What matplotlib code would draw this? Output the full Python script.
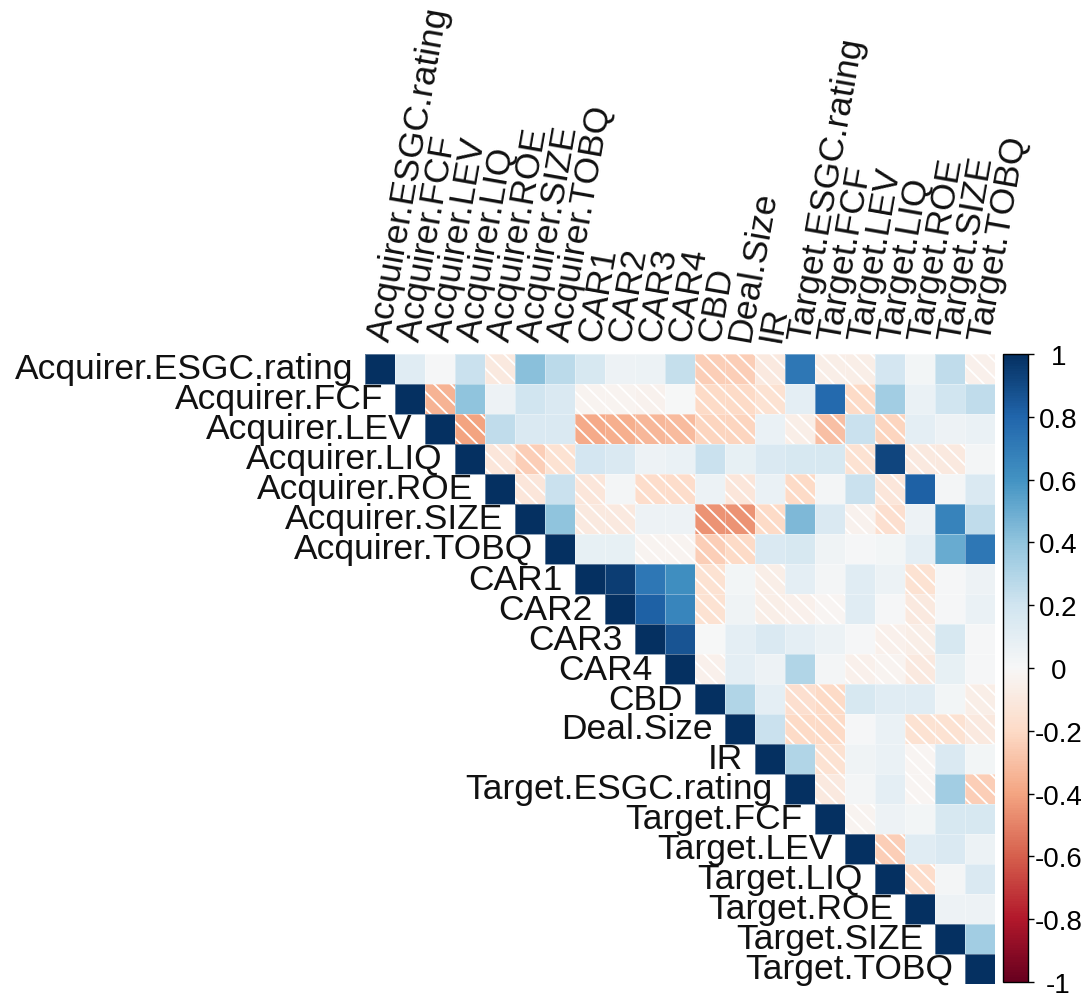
import numpy as np
import matplotlib
matplotlib.use('Agg')
from matplotlib import pyplot as plt
from matplotlib.patches import Rectangle
from matplotlib.colors import Normalize
from matplotlib.cm import ScalarMappable

plt.rcParams['font.family'] = ['Liberation Sans', 'DejaVu Sans']
plt.rcParams['hatch.color'] = 'white'
plt.rcParams['hatch.linewidth'] = 1.3

# variable names (rows and columns are the same)
names = ['Acquirer.ESGC.rating', 'Acquirer.FCF', 'Acquirer.LEV', 'Acquirer.LIQ',
         'Acquirer.ROE', 'Acquirer.SIZE', 'Acquirer.TOBQ', 'CAR1', 'CAR2', 'CAR3',
         'CAR4', 'CBD', 'Deal.Size', 'IR', 'Target.ESGC.rating', 'Target.FCF',
         'Target.LEV', 'Target.LIQ', 'Target.ROE', 'Target.SIZE', 'Target.TOBQ']

# upper triangle, each row starts right after the diagonal
r_acq_esgc = [0.12, 0.01, 0.22, -0.1, 0.42, 0.27, 0.17, 0.05, 0.06, 0.24, -0.25, -0.25, -0.1, 0.72, -0.07, -0.07, 0.18, 0.03, 0.25, -0.05]
r_acq_fcf = [-0.35, 0.4, 0.05, 0.2, 0.15, -0.03, -0.03, -0.04, 0.0, -0.2, -0.2, -0.15, 0.1, 0.78, -0.2, 0.35, 0.07, 0.2, 0.25]
r_acq_lev = [-0.4, 0.25, 0.15, 0.15, -0.38, -0.36, -0.33, -0.32, -0.22, -0.22, 0.07, -0.07, -0.3, 0.22, -0.22, 0.1, 0.05, 0.07]
r_acq_liq = [-0.12, -0.25, -0.15, 0.18, 0.15, 0.05, 0.07, 0.22, 0.08, 0.15, 0.17, 0.17, -0.15, 0.92, -0.1, -0.1, 0.02]
r_acq_roe = [-0.12, 0.22, -0.12, 0.02, -0.18, -0.18, 0.06, -0.12, 0.07, -0.2, 0.02, 0.22, -0.12, 0.82, 0.02, 0.15]
r_acq_size = [0.4, -0.1, -0.1, 0.05, 0.05, -0.45, -0.45, -0.2, 0.45, 0.15, -0.04, -0.17, 0.05, 0.67, 0.25]
r_acq_tobq = [0.08, 0.08, -0.03, -0.03, -0.25, -0.2, 0.15, 0.17, 0.04, 0.01, 0.03, 0.1, 0.5, 0.72]
r_car1 = [0.95, 0.72, 0.62, -0.15, 0.03, -0.07, 0.1, 0.02, 0.12, 0.06, -0.15, 0.01, 0.05]
r_car2 = [0.82, 0.66, -0.15, 0.04, -0.07, -0.05, -0.02, 0.12, 0.01, -0.1, 0.01, 0.07]
r_car3 = [0.86, 0.0, 0.1, 0.15, 0.1, 0.06, 0.01, -0.05, -0.07, 0.17, 0.01]
r_car4 = [-0.05, 0.1, 0.05, 0.3, 0.02, -0.05, -0.03, -0.1, 0.08, 0.01]
r_cbd = [0.3, 0.1, -0.17, -0.2, 0.17, 0.12, 0.12, 0.03, -0.07]
r_deal = [0.22, -0.2, -0.2, 0.01, 0.07, -0.15, -0.15, -0.1]
r_ir = [0.3, -0.15, 0.04, 0.07, -0.02, 0.15, 0.03]
r_tgt_esgc = [-0.1, 0.02, 0.1, -0.02, 0.35, -0.25]
r_tgt_fcf = [-0.03, 0.05, 0.03, 0.17, 0.17]
r_tgt_lev = [-0.25, 0.12, 0.15, 0.06]
r_tgt_liq = [-0.18, 0.02, 0.15]
r_tgt_roe = [0.05, 0.05]
r_tgt_size = [0.35]

cbar_ticks = [-1, -0.8, -0.6, -0.4, -0.2, 0, 0.2, 0.4, 0.6, 0.8, 1]
cbar_labels = ['-1', '-0.8', '-0.6', '-0.4', '-0.2', '0', '0.2', '0.4', '0.6', '0.8', '1']

rows = [r_acq_esgc, r_acq_fcf, r_acq_lev, r_acq_liq, r_acq_roe, r_acq_size, r_acq_tobq,
        r_car1, r_car2, r_car3, r_car4, r_cbd, r_deal, r_ir, r_tgt_esgc, r_tgt_fcf,
        r_tgt_lev, r_tgt_liq, r_tgt_roe, r_tgt_size, []]

n = len(names)
corr = np.full((n, n), np.nan)
for i, r in enumerate(rows):
    corr[i, i] = 1.0
    corr[i, i + 1:] = r
mcorr = np.ma.masked_invalid(corr)

cmap = plt.get_cmap('RdBu')
norm = Normalize(-1, 1)

fig = plt.figure(figsize=(10.87, 9.95), dpi=100)
W, H = 1087, 995
ax = fig.add_axes([365 / W, 10 / H, 630 / W, 630 / H])
ax.pcolormesh(np.arange(n + 1), np.arange(n + 1), mcorr, cmap=cmap, norm=norm,
              edgecolors=(1, 1, 1, 0.35), linewidth=0.5)

# hatch the negative cells
for i in range(n):
    for j in range(i + 1, n):
        if corr[i, j] < 0:
            ax.add_patch(Rectangle((j, i), 1, 1, fill=False, hatch='\\\\',
                                   edgecolor='white', linewidth=0))

ax.set_xlim(0, n)
ax.set_ylim(n, 0)
ax.axis('off')

fs = 25.5
for i, name in enumerate(names):
    ax.text(i - 0.4, i + 0.5, name, ha='right', va='center', fontsize=fs, color='#111111')
    ax.text(i + 0.5, -0.45, name, ha='left', va='center', rotation=80,
            rotation_mode='anchor', fontsize=fs, color='#111111')

# colour legend
cax = fig.add_axes([1003 / W, 12 / H, 25 / W, 628 / H])
cb = fig.colorbar(ScalarMappable(norm=norm, cmap=cmap), cax=cax)
cb.outline.set_linewidth(1.0)
cb.set_ticks(cbar_ticks)
cb.set_ticklabels(cbar_labels)
cax.tick_params(length=4, width=1, pad=18, labelsize=20)
for t in cax.get_yticklabels():
    t.set_ha('center')

fig.savefig('out.png', dpi=100)
